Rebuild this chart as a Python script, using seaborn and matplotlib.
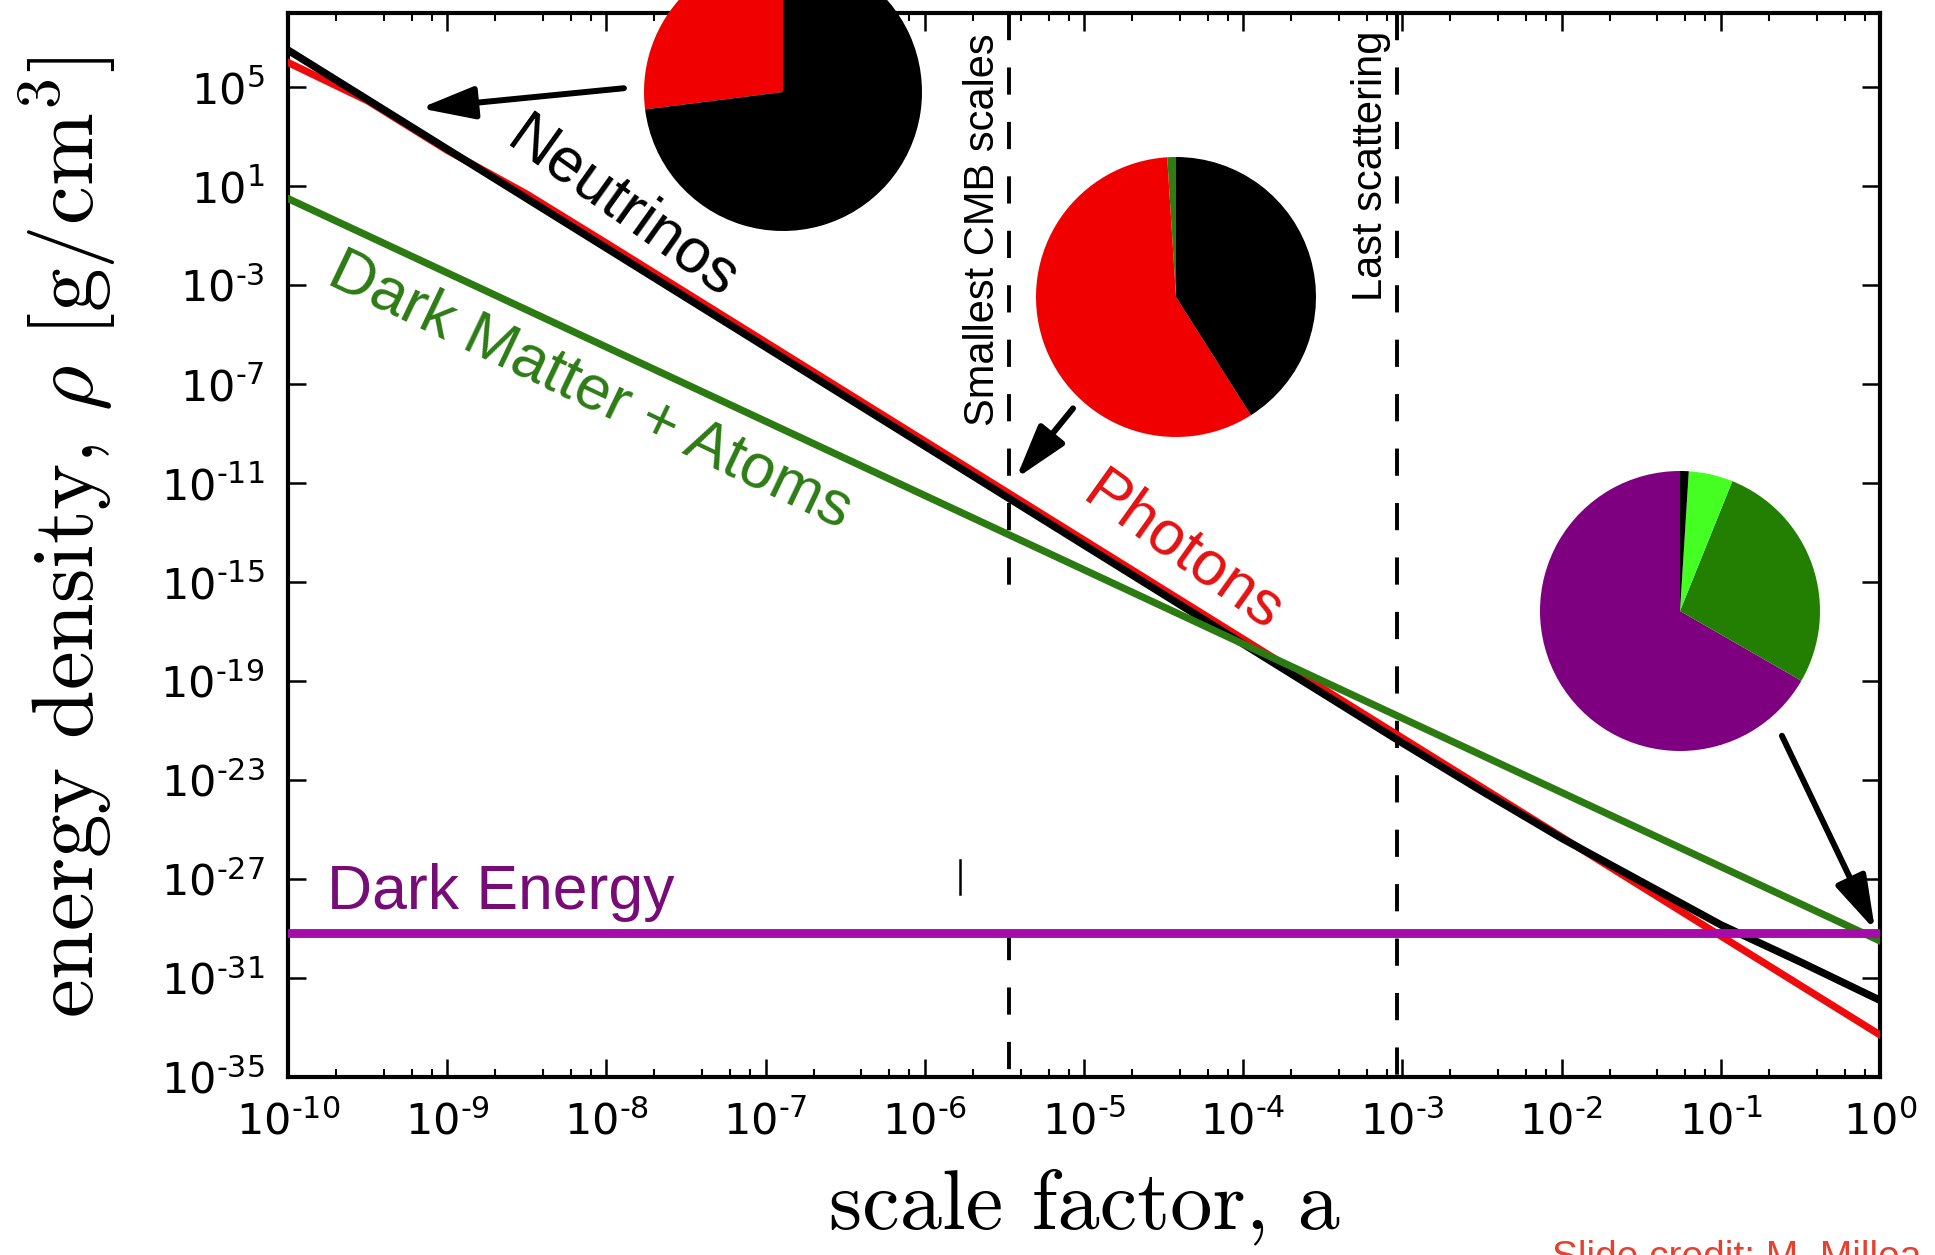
import numpy as np
import pandas as pd
import matplotlib
matplotlib.use("Agg")
import matplotlib.pyplot as plt
import matplotlib.ticker as mticker
import seaborn as sns

# ---------------- data (log10 values) ----------------
photon_loga = [-10, -9.5, -9, -8.5, -8, -7, -6, -5, -4, -3, -2, -1, 0]
photon_logrho = [6.0, 4.45, 2.45, 0.68, -1.3, -5.3, -9.3, -13.3, -17.3, -21.3, -25.3, -29.3, -33.3]

neutrino_loga = [-10, -9, -8, -7, -6, -5, -4, -3, -2.5, -2, -1.5, -1, -0.5, 0]
neutrino_logrho = [6.5, 2.5, -1.5, -5.5, -9.5, -13.5, -17.5, -21.5, -23.45, -25.35, -27.1, -28.85, -30.35, -31.9]

matter_loga = [-10, -9, -8, -7, -6, -5, -4, -3, -2, -1, 0]
matter_logrho = [0.5, -2.5, -5.5, -8.5, -11.5, -14.5, -17.5, -20.5, -23.5, -26.5, -29.5]

de_loga = [-10, -9, -8, -7, -6, -5, -4, -3, -2, -1, 0]
de_logrho = [-29.2, -29.2, -29.2, -29.2, -29.2, -29.2, -29.2, -29.2, -29.2, -29.2, -29.2]

# epochs marked by dashed lines
cmb_small_a = 3.4e-6
last_scatter_a = 9.2e-4
cmb_gap_logrho = [-29.2, -16.0]   # the dashed line is interrupted between these

# pie fractions (percent)
pie_early_vals = [27, 73]                      # photons, neutrinos
pie_early_cols = ["#f00000", "#000000"]
pie_cmb_vals = [1.0, 58.0, 41.0]               # matter, photons, neutrinos
pie_cmb_cols = ["#2e7d14", "#f00000", "#000000"]
pie_today_vals = [66.7, 27.2, 5.1, 1.0]        # dark energy, dark matter, atoms, neutrinos
pie_today_cols = ["#7e0080", "#237f02", "#45ff22", "#000000"]

xtick_exps = [-10, -9, -8, -7, -6, -5, -4, -3, -2, -1, 0]
ytick_exps = [-35, -31, -27, -23, -19, -15, -11, -7, -3, 1, 5]

# ---------------- figure ----------------
W, H = 1935, 1255
fig = plt.figure(figsize=(W / 100, H / 100), dpi=100)
ax = fig.add_axes([288 / W, 1 - 1077 / H, (1880 - 288) / W, (1077 - 13) / H])
ax.set_xscale("log")
ax.set_yscale("log")

SANS = ["Liberation Sans", "DejaVu Sans"]

def series(loga, logrho):
    return pd.DataFrame({"a": 10.0 ** np.array(loga), "rho": 10.0 ** np.array(logrho)})

sns.lineplot(data=series(photon_loga, photon_logrho), x="a", y="rho", ax=ax,
             color="#ee0b0b", lw=5.2, zorder=3, sort=False)
sns.lineplot(data=series(neutrino_loga, neutrino_logrho), x="a", y="rho", ax=ax,
             color="#000000", lw=5.4, zorder=4, sort=False)
sns.lineplot(data=series(matter_loga, matter_logrho), x="a", y="rho", ax=ax,
             color="#2b7b12", lw=5.2, zorder=5, sort=False)
sns.lineplot(data=series(de_loga, de_logrho), x="a", y="rho", ax=ax,
             color="#a60caa", lw=6.4, zorder=6, sort=False)

ax.set_xlim(1e-10, 1)
ax.set_ylim(1e-35, 1e8)

# dashed epoch lines
dash = (0, (7, 7))
ax.plot([last_scatter_a, last_scatter_a], [1e8, 1e-35], color="k", lw=2.8, ls=dash, zorder=2)
ax.plot([cmb_small_a, cmb_small_a], [1e8, 10 ** cmb_gap_logrho[1]], color="k", lw=2.8, ls=dash, zorder=2)
ax.plot([cmb_small_a, cmb_small_a], [10 ** cmb_gap_logrho[0], 1e-35], color="k", lw=2.8, ls=dash, zorder=2)
ax.plot([1.66e-6, 1.66e-6], [10 ** -26.25, 10 ** -27.6], color="k", lw=1.8, zorder=2)

# axes styling
for s in ax.spines.values():
    s.set_linewidth(3)


def sci_label(val, pos=None):
    e = int(round(np.log10(val)))
    if e < 0:
        return r"$\mathdefault{10^{\text{-}%d}}$" % abs(e)
    return r"$\mathdefault{10^{%d}}$" % e


ax.xaxis.set_major_locator(mticker.FixedLocator([10.0 ** e for e in xtick_exps]))
ax.xaxis.set_minor_locator(mticker.LogLocator(base=10, subs=(2, 4, 6, 8), numticks=100))
ax.yaxis.set_major_locator(mticker.FixedLocator([10.0 ** e for e in ytick_exps]))
ax.yaxis.set_minor_locator(mticker.NullLocator())
ax.xaxis.set_major_formatter(mticker.FuncFormatter(sci_label))
ax.yaxis.set_major_formatter(mticker.FuncFormatter(sci_label))
ax.xaxis.set_minor_formatter(mticker.NullFormatter())
ax.tick_params(which="both", direction="in", top=True, right=True, labelsize=31)
ax.tick_params(which="major", length=13, width=1.8, pad=17)
ax.tick_params(which="minor", length=6, width=1.5)

ax.set_xlabel("scale factor, a", fontsize=61, family="cmr10")
ax.xaxis.set_label_coords(0.5, -0.086)
ax.set_ylabel(r"energy density, $\rho$ [g/cm$^3$]", fontsize=63, family="cmr10",
              math_fontfamily="cm")
ax.yaxis.set_label_coords(-0.106, 0.507)

# curve labels
ax.text(10 ** -7.9, 10 ** 0.1, "Neutrinos", rotation=-35.5, rotation_mode="anchor",
        ha="center", va="center", fontsize=45, family=SANS, color="#000000", zorder=8)
ax.text(10 ** -8.1, 10 ** -7.26, "Dark Matter + Atoms", rotation=-25.5, rotation_mode="anchor",
        ha="center", va="center", fontsize=45, family=SANS, color="#2d7b15", zorder=8)
ax.text(10 ** -4.38, 10 ** -13.83, "Photons", rotation=-35.5, rotation_mode="anchor",
        ha="center", va="center", fontsize=45, family=SANS, color="#e31212", zorder=8)
ax.text(10 ** -9.755, 10 ** -28.23, "Dark Energy", ha="left", va="baseline",
        fontsize=45, family=SANS, color="#770c77", zorder=8)
ax.text(10 ** -5.634, 10 ** -0.77, "Smallest CMB scales", rotation=90, ha="center", va="center",
        fontsize=30, family=SANS, color="k", zorder=8)
ax.text(10 ** -3.2, 10 ** 1.81, "Last scattering", rotation=90, ha="center", va="center",
        fontsize=30, family=SANS, color="k", zorder=8)

# arrows
arrow = dict(arrowstyle="-|>,head_length=1.1,head_width=0.33", mutation_scale=30,
             lw=4.3, color="k", shrinkA=0, shrinkB=0)
ax.annotate("", xy=(10 ** -9.17, 10 ** 4.15), xytext=(10 ** -7.89, 10 ** 4.96), arrowprops=arrow, zorder=9)
ax.annotate("", xy=(10 ** -5.427, 10 ** -10.81), xytext=(10 ** -5.069, 10 ** -7.98), arrowprops=arrow, zorder=9)
ax.annotate("", xy=(10 ** -0.031, 10 ** -29.07), xytext=(10 ** -0.616, 10 ** -21.21), arrowprops=arrow, zorder=9)

# pies
def add_pie(cx, cy, r, vals, cols):
    pax = fig.add_axes([(cx - r) / W, 1 - (cy + r) / H, 2 * r / W, 2 * r / H])
    pax.pie(vals, colors=cols, startangle=90, counterclock=True,
            wedgeprops=dict(linewidth=0))
    pax.set_xlim(-1, 1)
    pax.set_ylim(-1, 1)
    pax.set_axis_off()
    return pax

add_pie(783, 92, 139, pie_early_vals, pie_early_cols)
add_pie(1176, 297, 140, pie_cmb_vals, pie_cmb_cols)
add_pie(1680, 611, 140, pie_today_vals, pie_today_cols)

fig.text(1552 / W, 1 - 1268 / H, "Slide credit: M. Millea", color="#e8402e",
         fontsize=28, family=SANS, ha="left", va="baseline")

fig.savefig("out.png", dpi=100)
